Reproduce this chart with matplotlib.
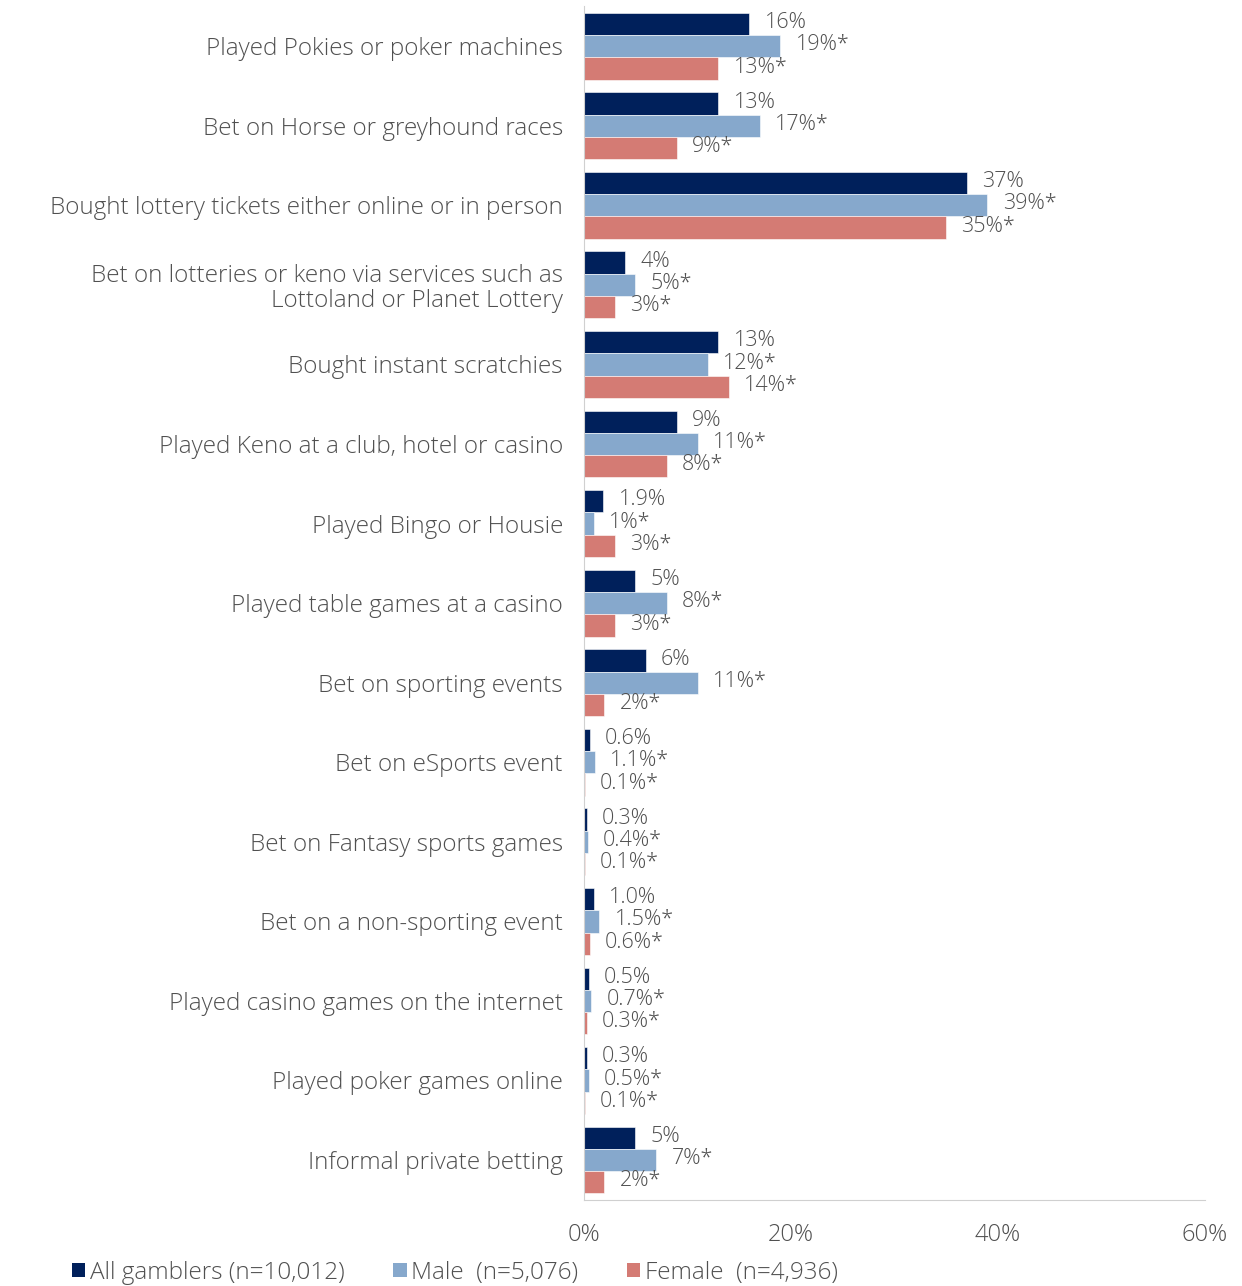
import numpy as np
import matplotlib.pyplot as plt
from matplotlib.patches import Patch

activities = [
    "Played Pokies or poker machines",
    "Bet on Horse or greyhound races",
    "Bought lottery tickets either online or in person",
    "Bet on lotteries or keno via services such as\nLottoland or Planet Lottery",
    "Bought instant scratchies",
    "Played Keno at a club, hotel or casino",
    "Played Bingo or Housie",
    "Played table games at a casino",
    "Bet on sporting events",
    "Bet on eSports event",
    "Bet on Fantasy sports games",
    "Bet on a non-sporting event",
    "Played casino games on the internet",
    "Played poker games online",
    "Informal private betting",
]
all_gamblers = [16, 13, 37, 4, 13, 9, 1.9, 5, 6, 0.6, 0.3, 1.0, 0.5, 0.3, 5]
male = [19, 17, 39, 5, 12, 11, 1, 8, 11, 1.1, 0.4, 1.5, 0.7, 0.5, 7]
female = [13, 9, 35, 3, 14, 8, 3, 3, 2, 0.1, 0.1, 0.6, 0.3, 0.1, 2]
all_labels = ["16%", "13%", "37%", "4%", "13%", "9%", "1.9%", "5%", "6%",
              "0.6%", "0.3%", "1.0%", "0.5%", "0.3%", "5%"]
male_labels = ["19%*", "17%*", "39%*", "5%*", "12%*", "11%*", "1%*", "8%*", "11%*",
               "1.1%*", "0.4%*", "1.5%*", "0.7%*", "0.5%*", "7%*"]
female_labels = ["13%*", "9%*", "35%*", "3%*", "14%*", "8%*", "3%*", "3%*", "2%*",
                 "0.1%*", "0.1%*", "0.6%*", "0.3%*", "0.1%*", "2%*"]
series_names = ["All gamblers (n=10,012)", "Male  (n=5,076)", "Female  (n=4,936)"]
x_ticks = [0, 20, 40, 60]

colors = ["#00205b", "#86a8cc", "#d47b74"]
text_color = "#505050"
plt.rcParams["font.family"] = ["Open Sans", "DejaVu Sans"]

fig = plt.figure(figsize=(12.42, 12.86), dpi=100)
ax = fig.add_axes([0.470, 0.067, 0.500, 0.928])

y = np.arange(len(activities))
h = 0.28
series = [(all_gamblers, all_labels), (male, male_labels), (female, female_labels)]
for i, (vals, labs) in enumerate(series):
    pos = y + (i - 1) * h
    ax.barh(pos, vals, height=h, color=colors[i], edgecolor="white", linewidth=0.4)
    for p, v, lab in zip(pos, vals, labs):
        ax.annotate(lab, (v, p), xytext=(11, 1), textcoords="offset points",
                    ha="left", va="center", fontsize=15.5, color=text_color,
                    fontweight="light")

ax.set_ylim(len(activities) - 0.5, -0.5)
ax.set_xlim(0, 60)
ax.set_yticks(y)
ax.set_yticklabels(activities, fontsize=17.5, color=text_color, fontweight="light",
                   linespacing=1.05)
ax.set_xticks(x_ticks)
ax.set_xticklabels([f"{t}%" for t in x_ticks], fontsize=17, color=text_color,
                   fontweight="light")
ax.tick_params(axis="both", length=0)
ax.tick_params(axis="y", pad=15)
ax.tick_params(axis="x", pad=17)
for s in ["top", "right"]:
    ax.spines[s].set_visible(False)
ax.spines["left"].set_color("#d0d0d0")
ax.spines["bottom"].set_color("#d0d0d0")

handles = [Patch(facecolor=c) for c in colors]
fig.legend(handles, series_names, loc="lower left", bbox_to_anchor=(0.04, -0.016),
           ncol=3, frameon=False, handlelength=0.55, handleheight=0.55,
           handletextpad=0.2, columnspacing=2.0,
           prop={"size": 17.5, "weight": "light"}, labelcolor=text_color)

fig.savefig("out.png", dpi=100)
